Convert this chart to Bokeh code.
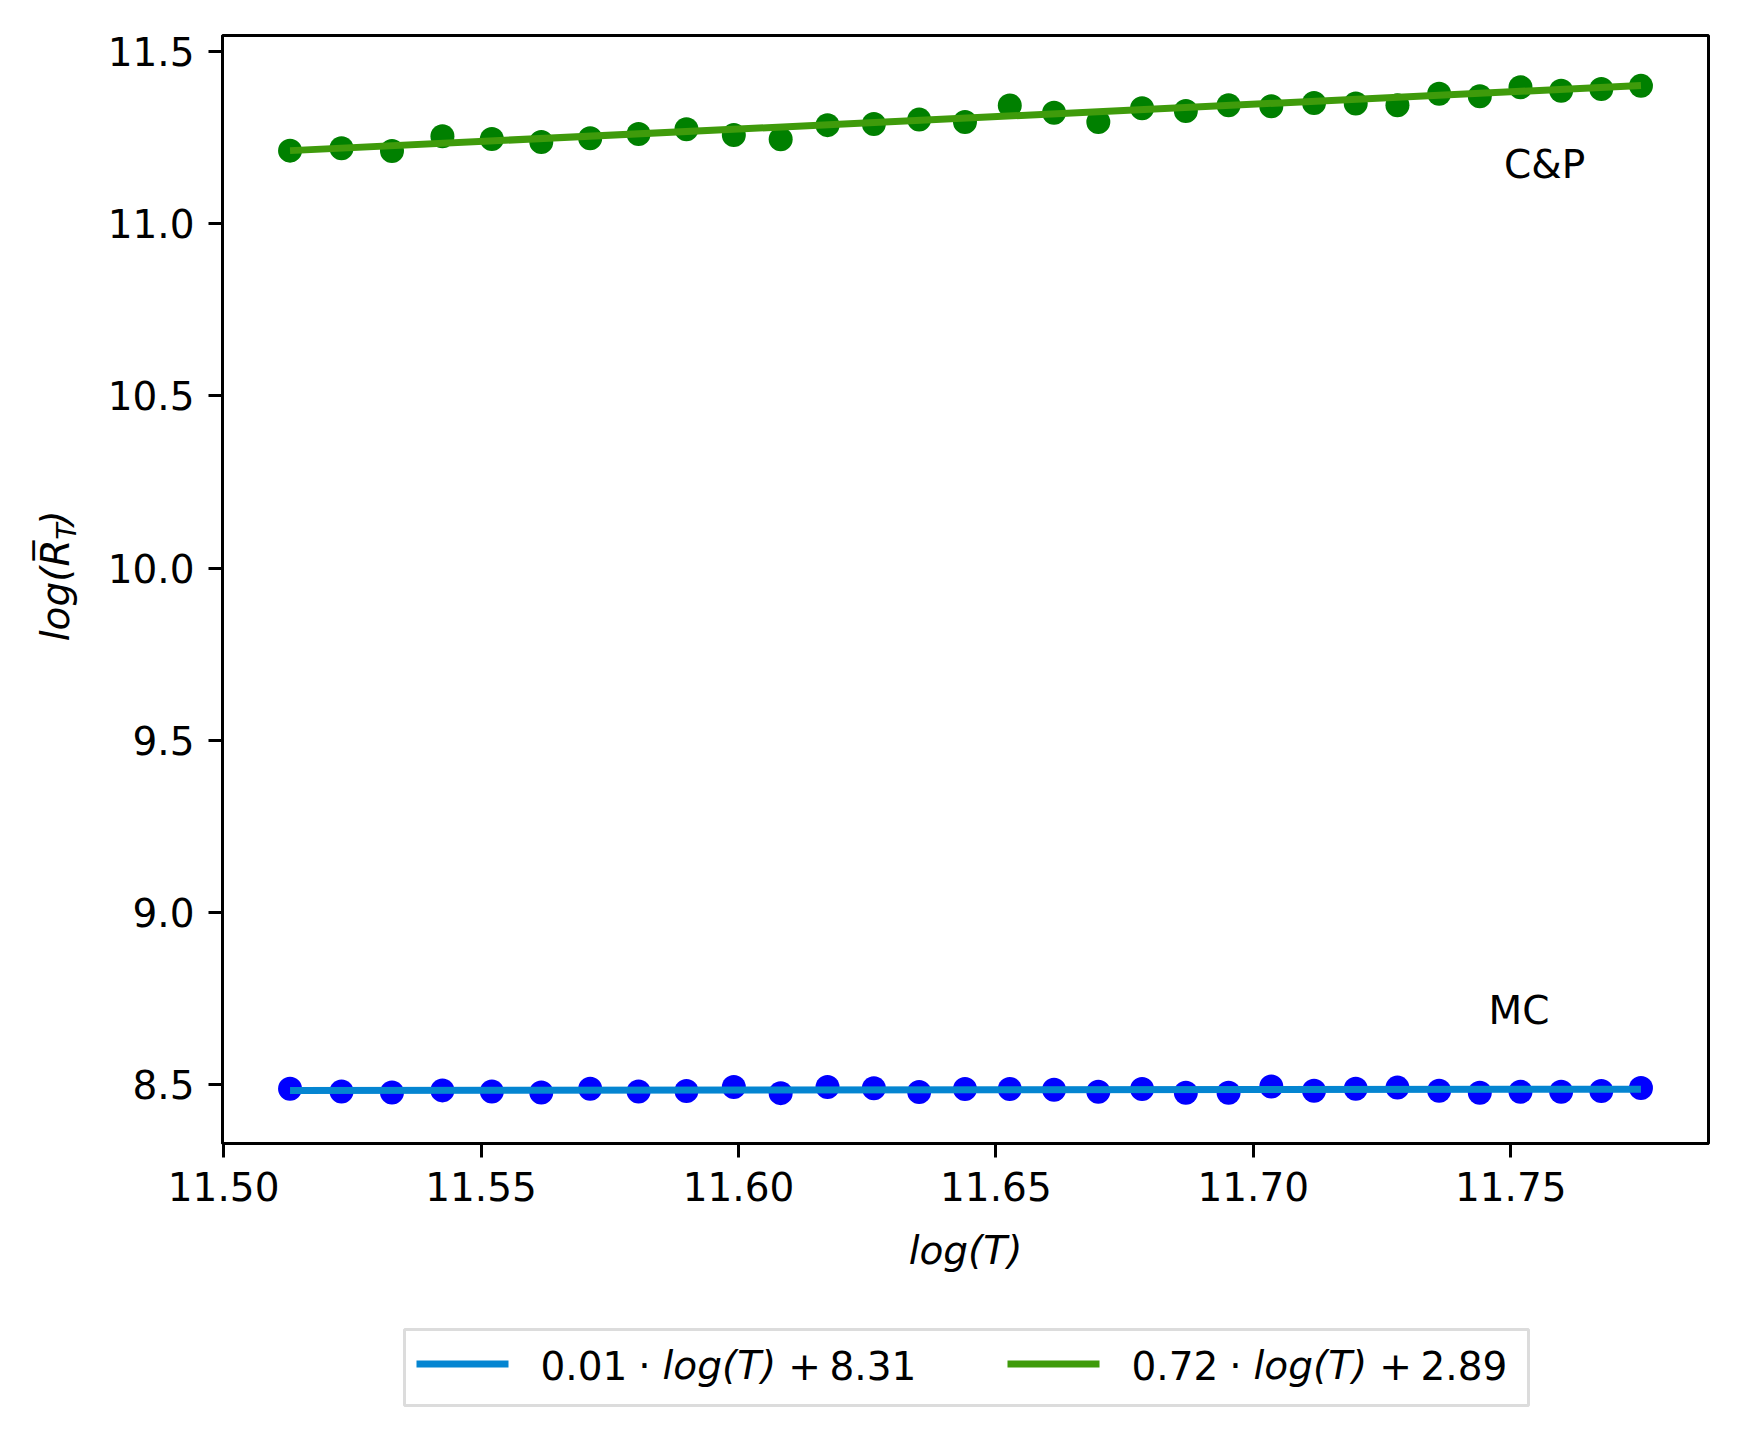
import math
from bokeh.plotting import figure
from bokeh.layouts import row, column
from bokeh.models import Range1d, FixedTicker, NumeralTickFormatter, Label
from bokeh.embed import file_html
from bokeh.resources import INLINE

# ---------------- data ----------------
log_T = [11.5129, 11.5229, 11.5327, 11.5425, 11.5521, 11.5617, 11.5712, 11.5806,
         11.5899, 11.5991, 11.6082, 11.6173, 11.6263, 11.6351, 11.6440, 11.6527,
         11.6613, 11.6699, 11.6784, 11.6869, 11.6952, 11.7035, 11.7118, 11.7199,
         11.7280, 11.7361, 11.7440, 11.7519, 11.7598, 11.7676, 11.7753]

mc_log_R = [8.489, 8.481, 8.478, 8.484, 8.481, 8.478, 8.489, 8.481, 8.482, 8.494,
            8.476, 8.494, 8.490, 8.479, 8.488, 8.488, 8.486, 8.480, 8.488, 8.477,
            8.477, 8.495, 8.483, 8.489, 8.492, 8.483, 8.477, 8.480, 8.480, 8.482,
            8.491]

cp_log_R = [11.212, 11.219, 11.211, 11.254, 11.246, 11.237, 11.248, 11.260, 11.274,
            11.257, 11.245, 11.286, 11.289, 11.302, 11.295, 11.343, 11.322, 11.295,
            11.335, 11.327, 11.344, 11.341, 11.350, 11.349, 11.344, 11.377, 11.370,
            11.396, 11.386, 11.391, 11.400]

# fitted line values at the first and last log(T)
mc_fit = [8.4835, 8.4875]
cp_fit = [11.212, 11.401]

# legend texts, split where the style changes (upright / italic)
mc_legend_parts = ["0.01", "·", "log(T)", "+", "8.31"]
cp_legend_parts = ["0.72", "·", "log(T)", "+", "2.89"]

x_ticks = [11.50, 11.55, 11.60, 11.65, 11.70, 11.75]
y_ticks = [8.5, 9.0, 9.5, 10.0, 10.5, 11.0, 11.5]

annot_text = ["C&P", "MC"]
annot_x = [11.7487, 11.7457]
annot_y = [11.172, 8.715]

# ---------------- styling / layout ----------------
FONT = "DejaVu Sans"
FS = "39px"
MC_POINT, CP_POINT = "#0000ff", "#008000"
MC_LINE, CP_LINE = "#0485d1", "#3f9b0b"

YLAB_W = 96
LEFT, RIGHT, TOP = 126, 18, 35
FW, FH = 1486, 1108
MAIN_H = 1300
BOTTOM = MAIN_H - TOP - FH
TOTAL_W = YLAB_W + LEFT + FW + RIGHT
LEG_H = 1419 - MAIN_H

xs = max(log_T) - min(log_T)
xmin, xmax = min(log_T) - 0.05 * xs, max(log_T) + 0.05 * xs
allv = mc_log_R + cp_log_R
ys = max(allv) - min(allv)
ymin, ymax = min(allv) - 0.05 * ys, max(allv) + 0.05 * ys

p = figure(frame_width=FW, frame_height=FH, output_backend="svg",
           toolbar_location=None,
           x_range=Range1d(xmin, xmax), y_range=Range1d(ymin, ymax),
           min_border_left=LEFT, min_border_right=RIGHT,
           min_border_top=TOP, min_border_bottom=BOTTOM,
           background_fill_color="white", border_fill_color="white")
p.grid.visible = False
p.outline_line_color = "black"
p.outline_line_width = 3
p.outline_line_alpha = 1.0

for ax in (p.xaxis[0], p.yaxis[0]):
    ax.axis_line_width = 3
    ax.major_tick_line_width = 3
    ax.major_tick_out = 14
    ax.major_tick_in = 0
    ax.minor_tick_line_color = None
    ax.major_label_text_font = FONT
    ax.major_label_text_font_size = FS
    ax.major_label_text_color = "black"
    ax.major_label_standoff = 14

p.xaxis.ticker = FixedTicker(ticks=x_ticks)
p.xaxis.formatter = NumeralTickFormatter(format="0.00")
p.yaxis.ticker = FixedTicker(ticks=y_ticks)
p.yaxis.formatter = NumeralTickFormatter(format="0.0")

p.xaxis.axis_label = "log(T)"
p.xaxis.axis_label_text_font = FONT
p.xaxis.axis_label_text_font_size = FS
p.xaxis.axis_label_text_font_style = "italic"
p.xaxis.axis_label_text_color = "black"
p.xaxis.axis_label_standoff = 24

# points
p.scatter(log_T, mc_log_R, size=24, color=MC_POINT, line_color=None)
p.scatter(log_T, cp_log_R, size=24, color=CP_POINT, line_color=None)

# fitted lines (drawn over the points)
ends = [log_T[0], log_T[-1]]
p.line(ends, mc_fit, line_width=7, color=MC_LINE)
p.line(ends, cp_fit, line_width=7, color=CP_LINE)

# annotations
for t, ax_, ay_ in zip(annot_text, annot_x, annot_y):
    p.add_layout(Label(x=ax_, y=ay_, text=t, text_font=FONT,
                       text_font_size=FS, text_color="black",
                       text_align="left", text_baseline="middle"))

# ---------------- helper panels (1 unit = 1 pixel) ----------------
def deco_fig(w, h):
    f = figure(width=w, height=h, output_backend="svg", toolbar_location=None,
               x_range=Range1d(0, w), y_range=Range1d(0, h),
               x_axis_type=None, y_axis_type=None, min_border=0,
               background_fill_color="white", border_fill_color="white")
    f.grid.visible = False
    f.outline_line_color = None
    return f

# y-axis label: log(R-bar_T), pieces placed along the vertical axis
ylab = deco_fig(YLAB_W, MAIN_H)
ylab_parts = [("log(R\u0305", 55, 649, "39px"),
              ("T", 66, 718, "27px"),
              (")", 55, 734, "39px")]
for t, cx, cy, fs in ylab_parts:
    ylab.add_layout(Label(x=cx, y=cy, text=t, angle=math.pi / 2,
                          text_font=FONT, text_font_size=fs,
                          text_font_style="italic", text_color="black",
                          text_align="center", text_baseline="middle"))

# legend panel below
leg = deco_fig(TOTAL_W, LEG_H)
leg.quad(left=[404], right=[1528], bottom=[14], top=[90],
         fill_color="white", line_color="#dcdcdc", line_width=3)

piece_dx = [0, 104, 122, 264, 289]
piece_style = ["normal", "normal", "italic", "normal", "normal"]
piece_align = ["left", "center", "left", "center", "left"]
for parts, color, sw_x, tx in ((mc_legend_parts, MC_LINE, 416, 540),
                               (cp_legend_parts, CP_LINE, 1007, 1131)):
    leg.line([sw_x, sw_x + 92], [55.5, 55.5], line_width=7, color=color)
    for t, dx, st, al in zip(parts, piece_dx, piece_style, piece_align):
        leg.add_layout(Label(x=tx + dx, y=54, text=t, text_font=FONT,
                             text_font_size=FS, text_font_style=st,
                             text_color="black", text_align=al,
                             text_baseline="middle"))

layout = column(row(ylab, p), leg)
open("out.html", "w").write(file_html(layout, INLINE))
